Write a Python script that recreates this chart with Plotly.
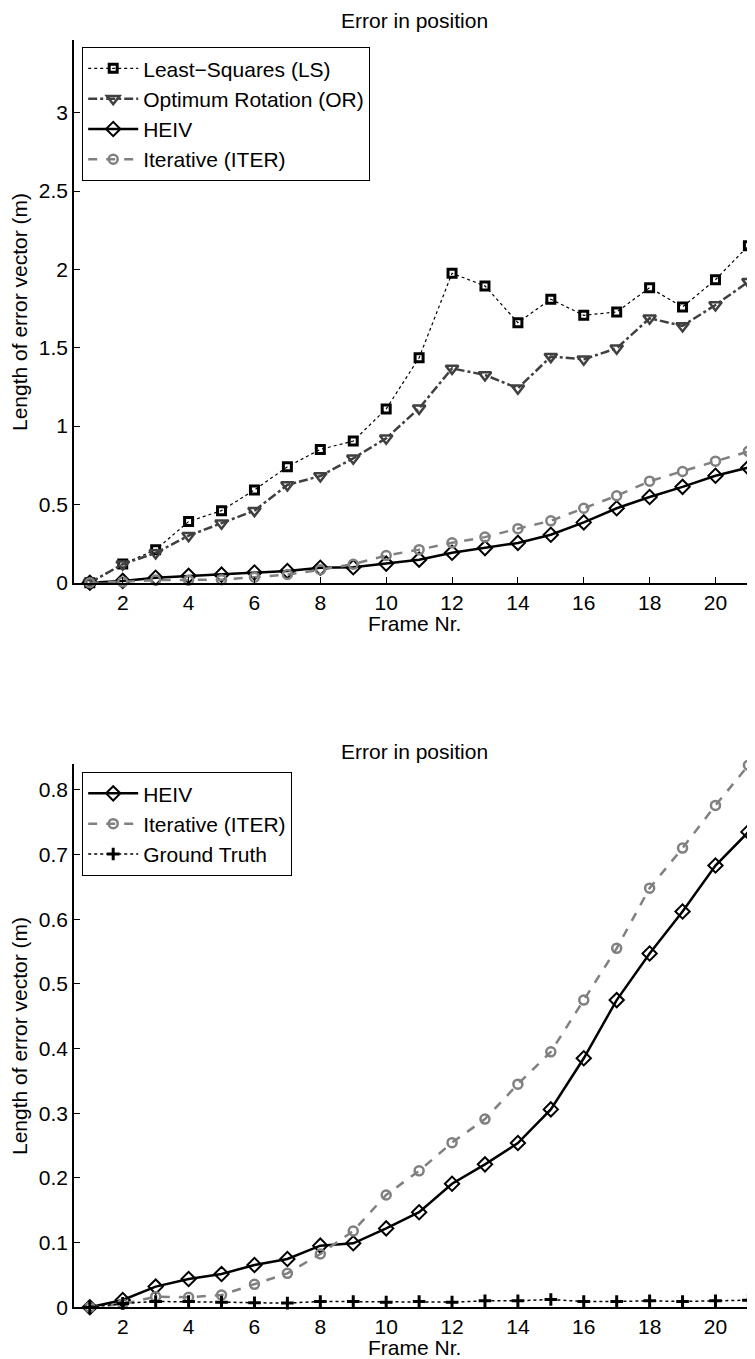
import plotly.graph_objects as go

frames = list(range(1, 22))
ls_err = [0.0, 0.12, 0.21, 0.39, 0.46, 0.592, 0.740, 0.851, 0.904, 1.109, 1.436, 1.975, 1.894, 1.660,
          1.809, 1.707, 1.728, 1.883, 1.760, 1.934, 2.151]
or_err = [0.0, 0.118, 0.19, 0.30, 0.38, 0.46, 0.624, 0.681, 0.794, 0.922, 1.113, 1.368, 1.326, 1.241,
          1.443, 1.426, 1.496, 1.688, 1.639, 1.773, 1.921]
heiv_err = [0.0, 0.0113, 0.032, 0.0438, 0.0515, 0.0654, 0.0747, 0.0953, 0.099, 0.122, 0.147, 0.191,
            0.221, 0.254, 0.306, 0.385, 0.475, 0.547, 0.612, 0.683, 0.735]
iter_err = [0.0, 0.005, 0.0165, 0.0155, 0.019, 0.0355, 0.0525, 0.0824, 0.118, 0.1737, 0.211, 0.2546,
            0.291, 0.345, 0.395, 0.475, 0.555, 0.648, 0.710, 0.776, 0.838]
gt_err = [0.0, 0.006, 0.009, 0.009, 0.008, 0.007, 0.0065, 0.009, 0.009, 0.008, 0.009, 0.008, 0.010,
          0.010, 0.012, 0.009, 0.009, 0.010, 0.009, 0.010, 0.011]

OFF = 8  # default page body margin
W, H = 755 - OFF, 1359 - OFF
FONT = "Liberation Sans, Arial, Helvetica, sans-serif"
FS = 21

def py(p):
    return 1 - (p - OFF) / H

def px(p):
    return (p - OFF) / W

fig = go.Figure()

def add(name, y, color, dash, width, symbol, msize, mlw, xa, ya, legend):
    fig.add_trace(go.Scatter(
        x=frames, y=y, name=name, mode="lines+markers",
        line=dict(color=color, dash=dash, width=width),
        marker=dict(symbol=symbol, size=msize, color=color, line=dict(color=color, width=mlw)),
        xaxis=xa, yaxis=ya, legend=legend, cliponaxis=False))

# top
add("Least\u2212Squares (LS)", ls_err, "#000000", "dot", 1.2, "square-open", 8, 3, "x", "y", "legend")
add("Optimum Rotation (OR)", or_err, "#404040", "dashdot", 2.5, "triangle-down-open", 11, 2.5, "x", "y", "legend")
add("HEIV", heiv_err, "#000000", "solid", 2.5, "diamond-open", 11, 2, "x", "y", "legend")
add("Iterative (ITER)", iter_err, "#808080", "dash", 2.5, "circle-open", 9, 2.5, "x", "y", "legend")
# bottom
add("HEIV", heiv_err, "#000000", "solid", 2.5, "diamond-open", 11, 2, "x2", "y2", "legend2")
add("Iterative (ITER)", iter_err, "#808080", "dash", 2.5, "circle-open", 9, 2.5, "x2", "y2", "legend2")
add("Ground Truth", gt_err, "#000000", "dot", 1.5, "cross-thin-open", 9, 3, "x2", "y2", "legend2")

x0 = px(74)
top_dom = [py(582.7), py(40)]
bot_dom = [py(1307.3), py(764)]

axis_common = dict(showline=True, linecolor="black", linewidth=1.5, ticks="inside", ticklen=6,
                   tickwidth=1.2, tickcolor="black", showgrid=False, zeroline=False,
                   tickfont=dict(family=FONT, size=FS, color="black"), automargin=False)

leg_common = dict(xanchor="left", yanchor="top", bordercolor="black", borderwidth=1.2, bgcolor="white",
                  font=dict(family=FONT, size=FS, color="black"), itemwidth=50, tracegroupgap=0)

fig.update_layout(
    width=W, height=H, template="none",
    paper_bgcolor="white", plot_bgcolor="white",
    margin=dict(l=0, r=0, t=0, b=0),
    font=dict(family=FONT, size=FS, color="black"),
    xaxis=dict(domain=[x0, 1], range=[0.52, 21.2], tick0=0, dtick=2, anchor="y", **axis_common),
    yaxis=dict(domain=top_dom, range=[0, 3.464], dtick=0.5, anchor="x", **axis_common),
    xaxis2=dict(domain=[x0, 1], range=[0.52, 21.2], tick0=0, dtick=2, anchor="y2", **axis_common),
    yaxis2=dict(domain=bot_dom, range=[0, 0.84], dtick=0.1, anchor="x2", **axis_common),
    legend=dict(x=px(82), y=py(47), **leg_common),
    legend2=dict(x=px(82), y=py(772), **leg_common),
    showlegend=True,
)

cx = (px(74) + 1) / 2
ann = []
ann.append(dict(text="Error in position", x=cx, y=1.0, xref="paper", yref="paper",
                showarrow=False, xanchor="center", yanchor="top", borderpad=0,
                font=dict(family=FONT, size=FS)))
ann.append(dict(text="Error in position", x=cx, y=py(751), xref="paper", yref="paper",
                showarrow=False, xanchor="center", yanchor="middle", font=dict(family=FONT, size=FS)))
for cy in (623, 1347):
    ann.append(dict(text="Frame Nr.", x=cx, y=py(cy), xref="paper", yref="paper",
                    showarrow=False, xanchor="center", yanchor="middle", font=dict(family=FONT, size=FS)))
for cy in (312, 1036):
    ann.append(dict(text="Length of error vector (m)", x=px(19), y=py(cy), xref="paper", yref="paper",
                    showarrow=False, xanchor="center", yanchor="middle", textangle=-90,
                    font=dict(family=FONT, size=FS)))
fig.update_layout(annotations=ann)

fig.write_html("out.html")
